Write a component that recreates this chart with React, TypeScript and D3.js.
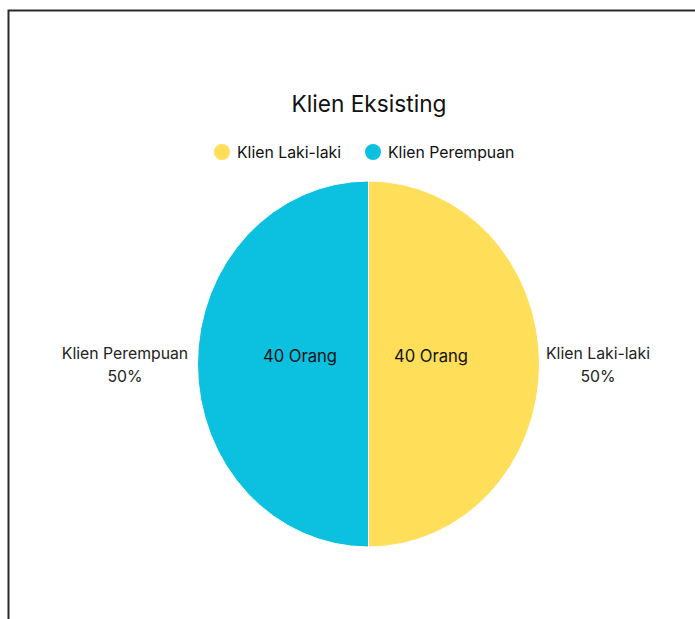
import React from "react";
import * as d3 from "d3";

const categories = ["Klien Laki-laki", "Klien Perempuan"];
const values = [40, 40];
const colors = ["#FFDE59", "#0CC0DF"];
const title = "Klien Eksisting";
const unit = "Orang";

export default function App() {
  const W = 695, H = 619;
  const cx = 368.5, cy = 364, rx = 171, ry = 183;
  const total = d3.sum(values);
  const pie = d3.pie<number>().sort(null).startAngle(0).endAngle(2 * Math.PI);
  const arcs = pie(values);
  const arc = d3.arc<d3.PieArcDatum<number>>().innerRadius(0).outerRadius(1);
  const font = "Inter, 'Noto Sans', sans-serif";
  const legendX = [222, 373];
  const outerLabels = [
    { x: 598, anchor: "middle" },
    { x: 125, anchor: "middle" },
  ];
  const innerLabelX = [431, 300];
  return (
    <svg width={W} height={H} style={{ position: "absolute", left: 0, top: 0, background: "#fff" }}>
      <rect x={8.5} y={10.5} width={W + 20} height={H + 20} fill="#fff" stroke="#2a2a2a" strokeWidth={2} />
      <text x={369} y={112} textAnchor="middle" fontFamily={font} fontSize={22.7} fill="#111">{title}</text>
      {categories.map((c, i) => (
        <g key={c}>
          <circle cx={legendX[i]} cy={152} r={8} fill={colors[i]} />
          <text x={legendX[i] + 15} y={157.5} fontFamily={font} fontSize={15.8} fill="#111">{c}</text>
        </g>
      ))}
      <g transform={`translate(${cx},${cy}) scale(${rx},${ry})`}>
        {arcs.map((a, i) => (
          <path key={i} d={arc(a) || ""} fill={colors[i]} stroke="#fff" strokeWidth={1} vectorEffect="non-scaling-stroke" />
        ))}
      </g>
      {arcs.map((a, i) => (
        <text key={"in" + i} x={innerLabelX[i]} y={362} textAnchor="middle" fontFamily={font} fontSize={16.6} fill="#111">
          {values[i]} {unit}
        </text>
      ))}
      {arcs.map((a, i) => (
        <text key={"out" + i} textAnchor={outerLabels[i].anchor as any} fontFamily={font} fontSize={15.8} fill="#222">
          <tspan x={outerLabels[i].x} y={359}>{categories[i]}</tspan>
          <tspan x={outerLabels[i].x} y={382}>{Math.round((values[i] / total) * 100)}%</tspan>
        </text>
      ))}
    </svg>
  );
}
